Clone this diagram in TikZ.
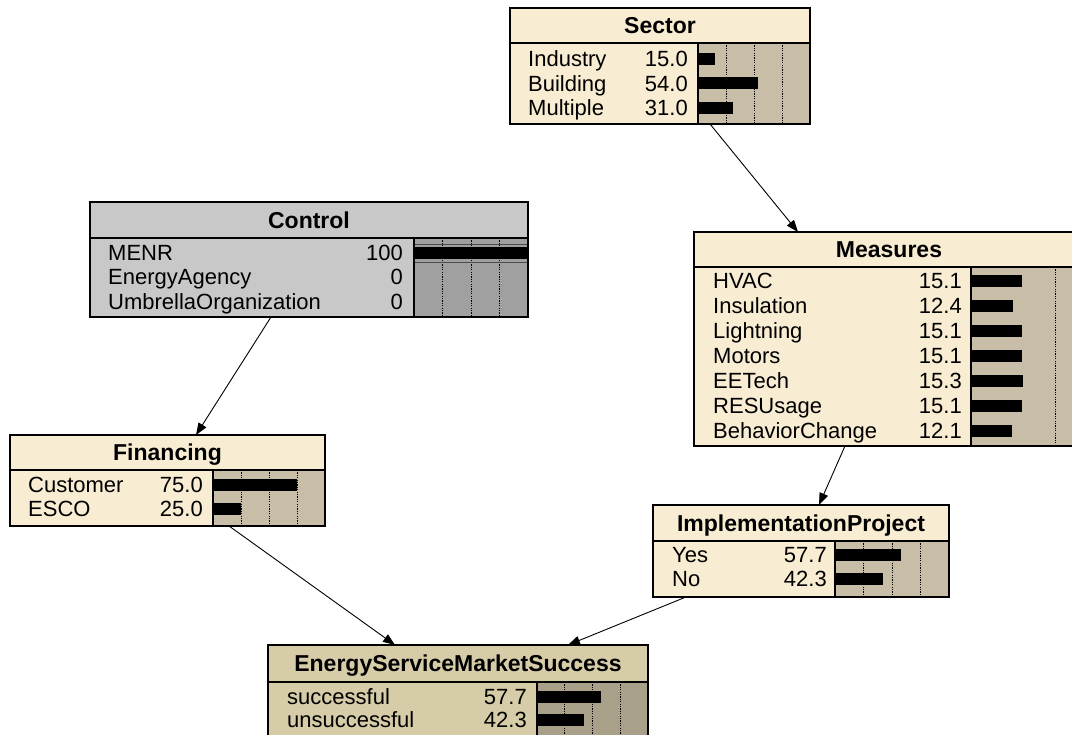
\documentclass[tikz,border=0pt]{standalone}
\usepackage{fontspec}
\setmainfont{Liberation Sans}
\usetikzlibrary{arrows.meta}
\definecolor{cream}{RGB}{248,237,210}
\definecolor{tanbar}{RGB}{200,190,168}
\definecolor{esmsbg}{RGB}{214,204,168}
\definecolor{esmsbar}{RGB}{168,160,136}
\definecolor{ctrlbg}{RGB}{200,200,200}
\definecolor{ctrlbar}{RGB}{160,160,160}
\tikzset{
  box/.style={draw=black, line width=1.1pt, inner sep=0pt, outer sep=0pt, rectangle},
  bd/.style={draw=black, line width=1.1pt},
  gridl/.style={draw=black, line width=0.7pt, dash pattern=on 1.2pt off 1.2pt},
  lbl/.style={inner sep=0pt, text=black, font=\fontsize{22}{22}\selectfont},
  ttl/.style={inner sep=0pt, text=black, font=\fontsize{23}{23}\selectfont\bfseries, anchor=base},
  arr/.style={draw=black, line width=0.9pt, -{Triangle[length=12pt, width=9pt]}},
}
% frame: name, x, y, w, h, divider y, bar x, label fill, bar fill
\newcommand\bnframe[9]{%
  \node[box, fill=#8, minimum width=#4pt, minimum height=#5pt, anchor=north west] (#1) at (#2,#3) {};
  \fill[#9] (#7,#6) rectangle (#2+#4,#3+#5);
  \foreach \k in {1,2,3} \draw[gridl] ({#7+\k*(#2+#4-#7)/4},#6) -- ({#7+\k*(#2+#4-#7)/4},#3+#5);
}
% close: name, left x, right x, divider y, bar x, bottom y
\newcommand\bnclose[6]{%
  \draw[bd] (#2,#4) -- (#3,#4);
  \draw[bd] (#5,#4) -- (#5,#6);
  \draw[bd] (#1.north west) rectangle (#1.south east);
}
% row: name, label x, number right x, bar x, bar width, y centre, label, value
\newcommand\bnrow[8]{%
  \node[lbl, anchor=base west] (#1l) at (#2,#6+7.8) {#7};
  \node[lbl, anchor=base east] (#1v) at (#3,#6+7.8) {#8};
  \fill[black] (#4,#6-6) rectangle ({#4+#5*#8/100},#6+6);
}
\begin{document}
\begin{tikzpicture}[x=1pt, y=-1pt]
\useasboundingbox (0,0) rectangle (1072,735);
\fill[white] (0,0) rectangle (1072,735);
\clip (0,0) rectangle (1072,735);

% Sector
\bnframe{sector}{510}{8}{300}{116}{43}{698}{cream}{tanbar}
\node[ttl] (sectorT) at (660,33.8) {Sector};
\bnrow{sIn}{528}{688}{698}{112}{59}{Industry}{15.0}
\bnrow{sBu}{528}{688}{698}{112}{83.5}{Building}{54.0}
\bnrow{sMu}{528}{688}{698}{112}{108}{Multiple}{31.0}
\bnclose{sector}{510}{810}{43}{698}{124}

% Control
\bnframe{control}{90}{202}{438}{115}{238}{414}{ctrlbg}{ctrlbar}
\node[ttl] (controlT) at (309,228.3) {Control};
\bnrow{cMe}{108}{403}{414}{114}{253}{MENR}{100}
\bnrow{cEA}{108}{403}{414}{114}{277}{EnergyAgency}{0}
\bnrow{cUO}{108}{403}{414}{114}{301.5}{UmbrellaOrganization}{0}
\draw[black!70, line width=0.8pt] (414,244.5) -- (528,244.5);
\draw[black!70, line width=0.8pt] (414,262.5) -- (528,262.5);
\bnclose{control}{90}{528}{238}{414}{317}

% Measures
\bnframe{measures}{694}{232}{615}{214}{267}{971}{cream}{tanbar}
\node[ttl] (measuresT) at (889,257.8) {Measures};
\bnrow{mHV}{713}{962}{971}{338}{281}{HVAC}{15.1}
\bnrow{mIn}{713}{962}{971}{338}{306}{Insulation}{12.4}
\bnrow{mLi}{713}{962}{971}{338}{331}{Lightning}{15.1}
\bnrow{mMo}{713}{962}{971}{338}{356}{Motors}{15.1}
\bnrow{mEE}{713}{962}{971}{338}{381}{EETech}{15.3}
\bnrow{mRE}{713}{962}{971}{338}{406}{RESUsage}{15.1}
\bnrow{mBC}{713}{962}{971}{338}{431}{BehaviorChange}{12.1}
\bnclose{measures}{694}{1309}{267}{971}{446}

% Financing
\bnframe{financing}{10}{435}{315}{91}{470}{213}{cream}{tanbar}
\node[ttl] (financingT) at (167.5,460.8) {Financing};
\bnrow{fCu}{28}{203}{213}{112}{485}{Customer}{75.0}
\bnrow{fES}{28}{203}{213}{112}{509}{ESCO}{25.0}
\bnclose{financing}{10}{325}{470}{213}{526}

% ImplementationProject
\bnframe{impl}{653}{505}{296}{92}{541}{835}{cream}{tanbar}
\node[ttl] (implT) at (801,531.3) {ImplementationProject};
\bnrow{iYe}{672}{827}{835}{114}{554.5}{Yes}{57.7}
\bnrow{iNo}{672}{827}{835}{114}{579}{No}{42.3}
\bnclose{impl}{653}{949}{541}{835}{597}

% EnergyServiceMarketSuccess
\bnframe{esms}{268}{645}{380}{100}{682}{537}{esmsbg}{esmsbar}
\node[ttl] (esmsT) at (458,671.8) {EnergyServiceMarketSuccess};
\bnrow{eSu}{287}{527}{537}{111}{697}{successful}{57.7}
\bnrow{eUn}{287}{527}{537}{111}{720}{unsuccessful}{42.3}
\bnclose{esms}{268}{648}{682}{537}{745}

% connectors
\draw[arr] ([xshift=200pt]sector.south west) -- ([xshift=104pt]measures.north west);
\draw[arr] ([xshift=181pt]control.south west) -- ([xshift=186pt]financing.north west);
\draw[arr] ([xshift=151pt]measures.south west) -- ([xshift=166pt]impl.north west);
\draw[arr] ([xshift=219pt]financing.south west) -- ([xshift=127pt]esms.north west);
\draw[arr] ([xshift=33pt]impl.south west) -- ([xshift=300pt]esms.north west);
\end{tikzpicture}
\end{document}
